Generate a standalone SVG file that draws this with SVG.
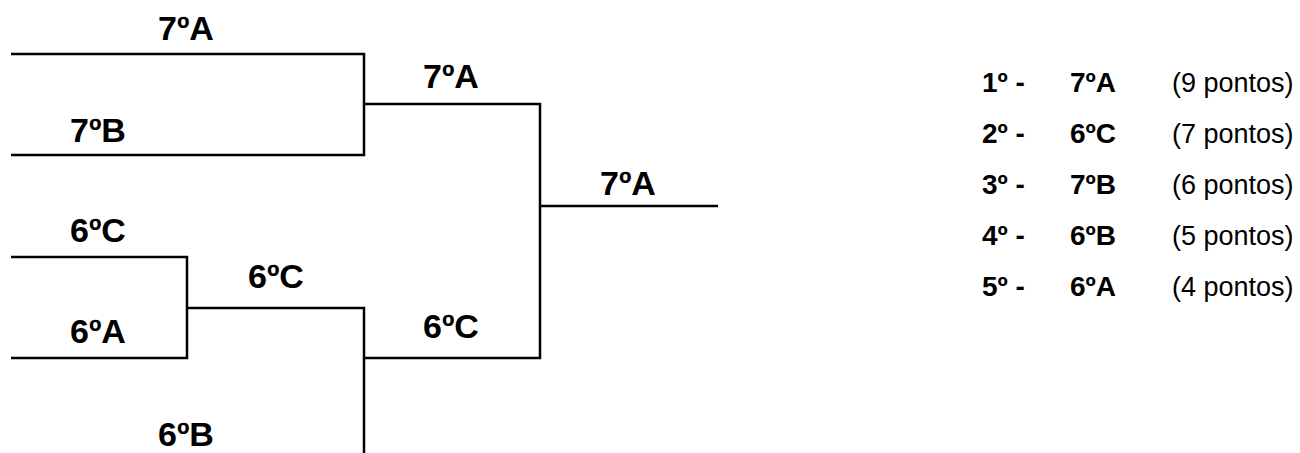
<svg xmlns="http://www.w3.org/2000/svg" width="1300" height="453" viewBox="0 0 1300 453">
<style>
.l{fill:none;stroke:#000;stroke-width:2.5}
.t{font-family:"Liberation Sans",Arial,sans-serif;font-weight:bold;font-size:34px;fill:#000}
.b{font-family:"Liberation Sans",Arial,sans-serif;font-weight:bold;font-size:28px;fill:#000}
.r{font-family:"Liberation Sans",Arial,sans-serif;font-size:27px;fill:#000}
</style>
<rect width="1300" height="453" fill="#fff"/>
<g id="connectors">
<polyline class="l" points="11,54 364,54 364,155 11,155"/>
<polyline class="l" points="364,104 540,104 540,358 364,358"/>
<line class="l" x1="540" y1="206" x2="718" y2="206"/>
<polyline class="l" points="11,257 187,257 187,358 11,358"/>
<polyline class="l" points="187,308 364,308 364,453"/>
</g>
<g id="r1-7A"><text class="t" x="158" y="40">7ºA</text></g>
<g id="r1-7B"><text class="t" x="70" y="142">7ºB</text></g>
<g id="r1-6C"><text class="t" x="70" y="242">6ºC</text></g>
<g id="r1-6A"><text class="t" x="70" y="343">6ºA</text></g>
<g id="r1-6B"><text class="t" x="158" y="446">6ºB</text></g>
<g id="r2-6C"><text class="t" x="248" y="288">6ºC</text></g>
<g id="r2-7A"><text class="t" x="423" y="88">7ºA</text></g>
<g id="r3-6C"><text class="t" x="423" y="338">6ºC</text></g>
<g id="final-7A"><text class="t" x="600" y="195">7ºA</text></g>
<g id="legend">
<text class="b" x="982" y="92">1º -</text><text class="b" x="1070" y="92">7ºA</text><text class="r" x="1172" y="92">(9 pontos)</text>
<text class="b" x="982" y="143">2º -</text><text class="b" x="1070" y="143">6ºC</text><text class="r" x="1172" y="143">(7 pontos)</text>
<text class="b" x="982" y="194">3º -</text><text class="b" x="1070" y="194">7ºB</text><text class="r" x="1172" y="194">(6 pontos)</text>
<text class="b" x="982" y="245">4º -</text><text class="b" x="1070" y="245">6ºB</text><text class="r" x="1172" y="245">(5 pontos)</text>
<text class="b" x="982" y="296">5º -</text><text class="b" x="1070" y="296">6ºA</text><text class="r" x="1172" y="296">(4 pontos)</text>
</g>
</svg>
